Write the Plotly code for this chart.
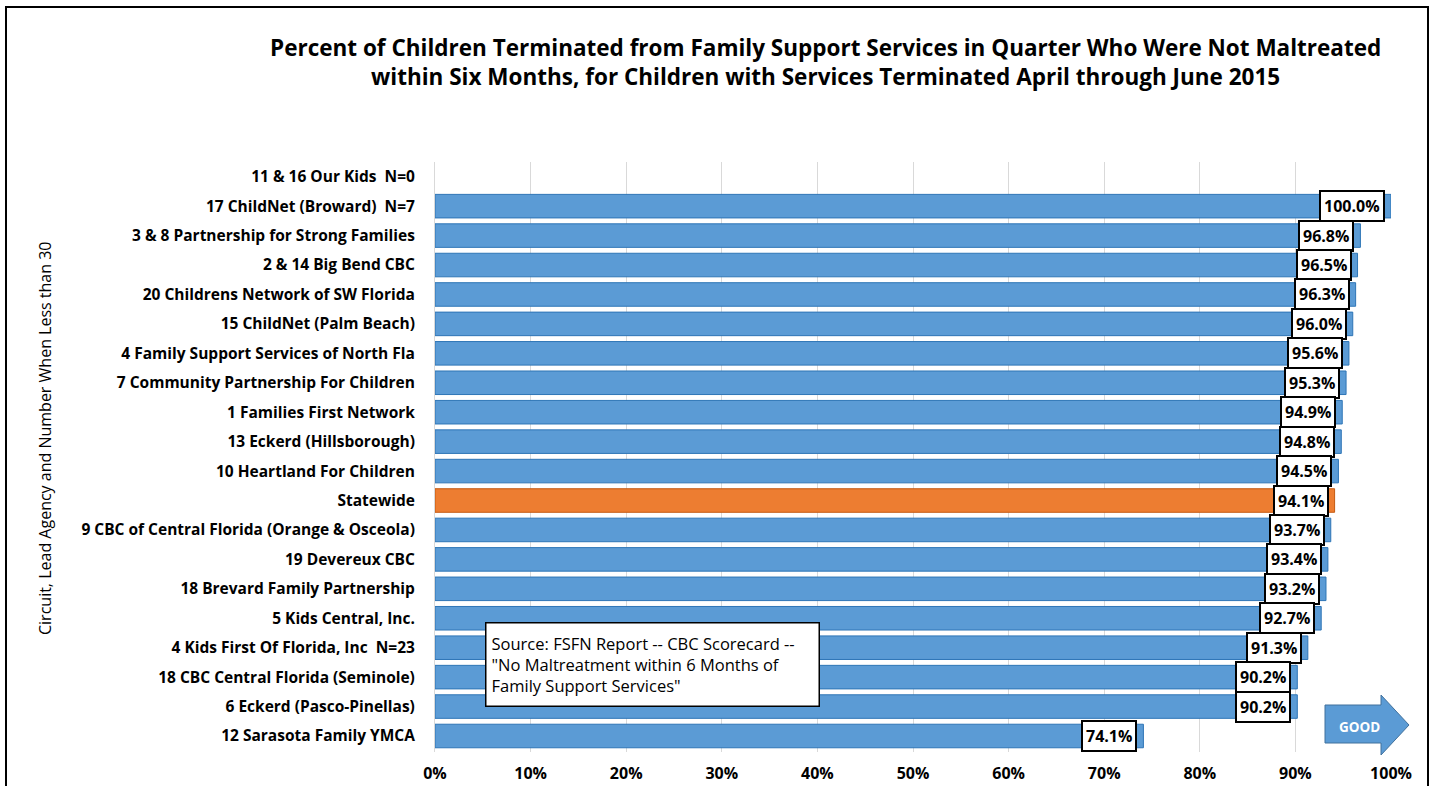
import plotly.graph_objects as go

categories = [
    "11 & 16 Our Kids\u00a0\u00a0N=0",
    "17 ChildNet (Broward)\u00a0\u00a0N=7",
    "3 & 8 Partnership for Strong Families",
    "2 & 14 Big Bend CBC",
    "20 Childrens Network of SW Florida",
    "15 ChildNet (Palm Beach)",
    "4 Family Support Services of North Fla",
    "7 Community Partnership For Children",
    "1 Families First Network",
    "13 Eckerd (Hillsborough)",
    "10 Heartland For Children",
    "Statewide",
    "9 CBC of Central Florida (Orange & Osceola)",
    "19 Devereux CBC",
    "18 Brevard Family Partnership",
    "5 Kids Central, Inc.",
    "4 Kids First Of Florida, Inc\u00a0\u00a0N=23",
    "18 CBC Central Florida (Seminole)",
    "6 Eckerd (Pasco-Pinellas)",
    "12 Sarasota Family YMCA",
]
values = [None, 100.0, 96.8, 96.5, 96.3, 96.0, 95.6, 95.3, 94.9, 94.8, 94.5,
          94.1, 93.7, 93.4, 93.2, 92.7, 91.3, 90.2, 90.2, 74.1]
highlight = "Statewide"
tick_vals = [0, 10, 20, 30, 40, 50, 60, 70, 80, 90, 100]
tick_text = [f"{v}%" for v in tick_vals]

BLUE = "#5B9BD5"
ORANGE = "#ED7D31"
FONT = "Open Sans"

W, H = 1437, 786
ML, MR, MT, MB = 435, 46, 162, 34
PW, PH = W - ML - MR, H - MT - MB

def px(x):
    return (x - ML) / PW

def py(y):
    return (H - MB - y) / PH

colors = [ORANGE if c == highlight else BLUE for c in categories]
line_colors = ["#C55A11" if c == highlight else "#2E75B6" for c in categories]

fig = go.Figure()
fig.add_trace(go.Bar(
    y=categories, x=values, orientation="h",
    marker=dict(color=colors, line=dict(color=line_colors, width=1)),
    width=0.8, hoverinfo="x+y",
))

annotations = []
for c, v in zip(categories, values):
    if v is None:
        continue
    annotations.append(dict(
        x=v, y=c, xref="x", yref="y", text=f"<b>{v:.1f}%</b>",
        showarrow=False, xanchor="right", yanchor="middle", xshift=-6,
        font=dict(family=FONT, size=16, color="black"),
        bgcolor="white", bordercolor="black", borderwidth=2, borderpad=3,
    ))

# Source box
annotations.append(dict(
    x=px(485), y=py(622), xref="paper", yref="paper", xanchor="left", yanchor="top",
    text="Source: FSFN Report -- CBC Scorecard --<br>\"No Maltreatment within 6 Months of<br>Family Support Services\"",
    align="left", showarrow=False, width=322, height=72,
    font=dict(family=FONT, size=16.5, color="black"),
    bgcolor="white", bordercolor="black", borderwidth=1.5, borderpad=5,
))
# GOOD arrow text
annotations.append(dict(
    x=px(1359), y=py(727), xref="paper", yref="paper", text="<b>GOOD</b>",
    xanchor="center", yanchor="middle",
    showarrow=False, font=dict(family=FONT, size=13.5, color="white"),
))
# Y axis title
annotations.append(dict(
    x=px(45), y=py(438), xref="paper", yref="paper", text="Circuit, Lead Agency and Number When Less than 30",
    xanchor="center", yanchor="middle",
    textangle=-90, showarrow=False, font=dict(family=FONT, size=16, color="#000000"),
))
# Title
annotations.append(dict(
    x=px(825), y=py(62), xref="paper", yref="paper",
    xanchor="center", yanchor="middle",
    text="<b>Percent of Children Terminated from Family Support Services in Quarter Who Were Not Maltreated<br>within Six Months, for Children with Services Terminated April through June 2015</b>",
    showarrow=False, align="center", font=dict(family=FONT, size=22.5, color="black"),
))

shapes = [
    # outer border
    dict(type="rect", xref="paper", yref="paper", x0=px(6), x1=px(1428), y0=py(800), y1=py(7),
         line=dict(color="black", width=2), fillcolor="rgba(0,0,0,0)", layer="below"),
    # GOOD arrow
    dict(type="path", xref="paper", yref="paper",
         path=(f"M {px(1325)} {py(705)} L {px(1381)} {py(705)} L {px(1381)} {py(695)} "
               f"L {px(1409)} {py(725)} L {px(1381)} {py(755)} L {px(1381)} {py(743)} "
               f"L {px(1325)} {py(743)} Z"),
         fillcolor=BLUE, line=dict(color="#41719C", width=1), layer="below"),
]

fig.update_layout(
    width=W, height=H,
    margin=dict(l=ML, r=MR, t=MT, b=MB, autoexpand=False),
    paper_bgcolor="white", plot_bgcolor="white",
    showlegend=False, bargap=0.2,
    annotations=annotations, shapes=shapes,
    font=dict(family=FONT, color="black"),
    xaxis=dict(range=[0, 100], tickvals=tick_vals, ticktext=tick_text,
               showgrid=True, gridcolor="#D9D9D9", gridwidth=1,
               zeroline=False, showline=False, automargin=False,
               tickfont=dict(family=FONT, size=16, color="black", weight=700),
               ticks="", ticklabelstandoff=10, fixedrange=True),
    yaxis=dict(autorange="reversed", categoryorder="array", categoryarray=categories,
               showgrid=False, zeroline=False, showline=True, linecolor="#D9D9D9",
               automargin=False,
               tickfont=dict(family=FONT, size=15.5, color="black", weight=700),
               ticks="", ticklabelstandoff=16),
)

fig.write_html("out.html", config={"displayModeBar": False},
               post_script="document.body.style.margin='0';document.body.style.overflow='hidden';")
